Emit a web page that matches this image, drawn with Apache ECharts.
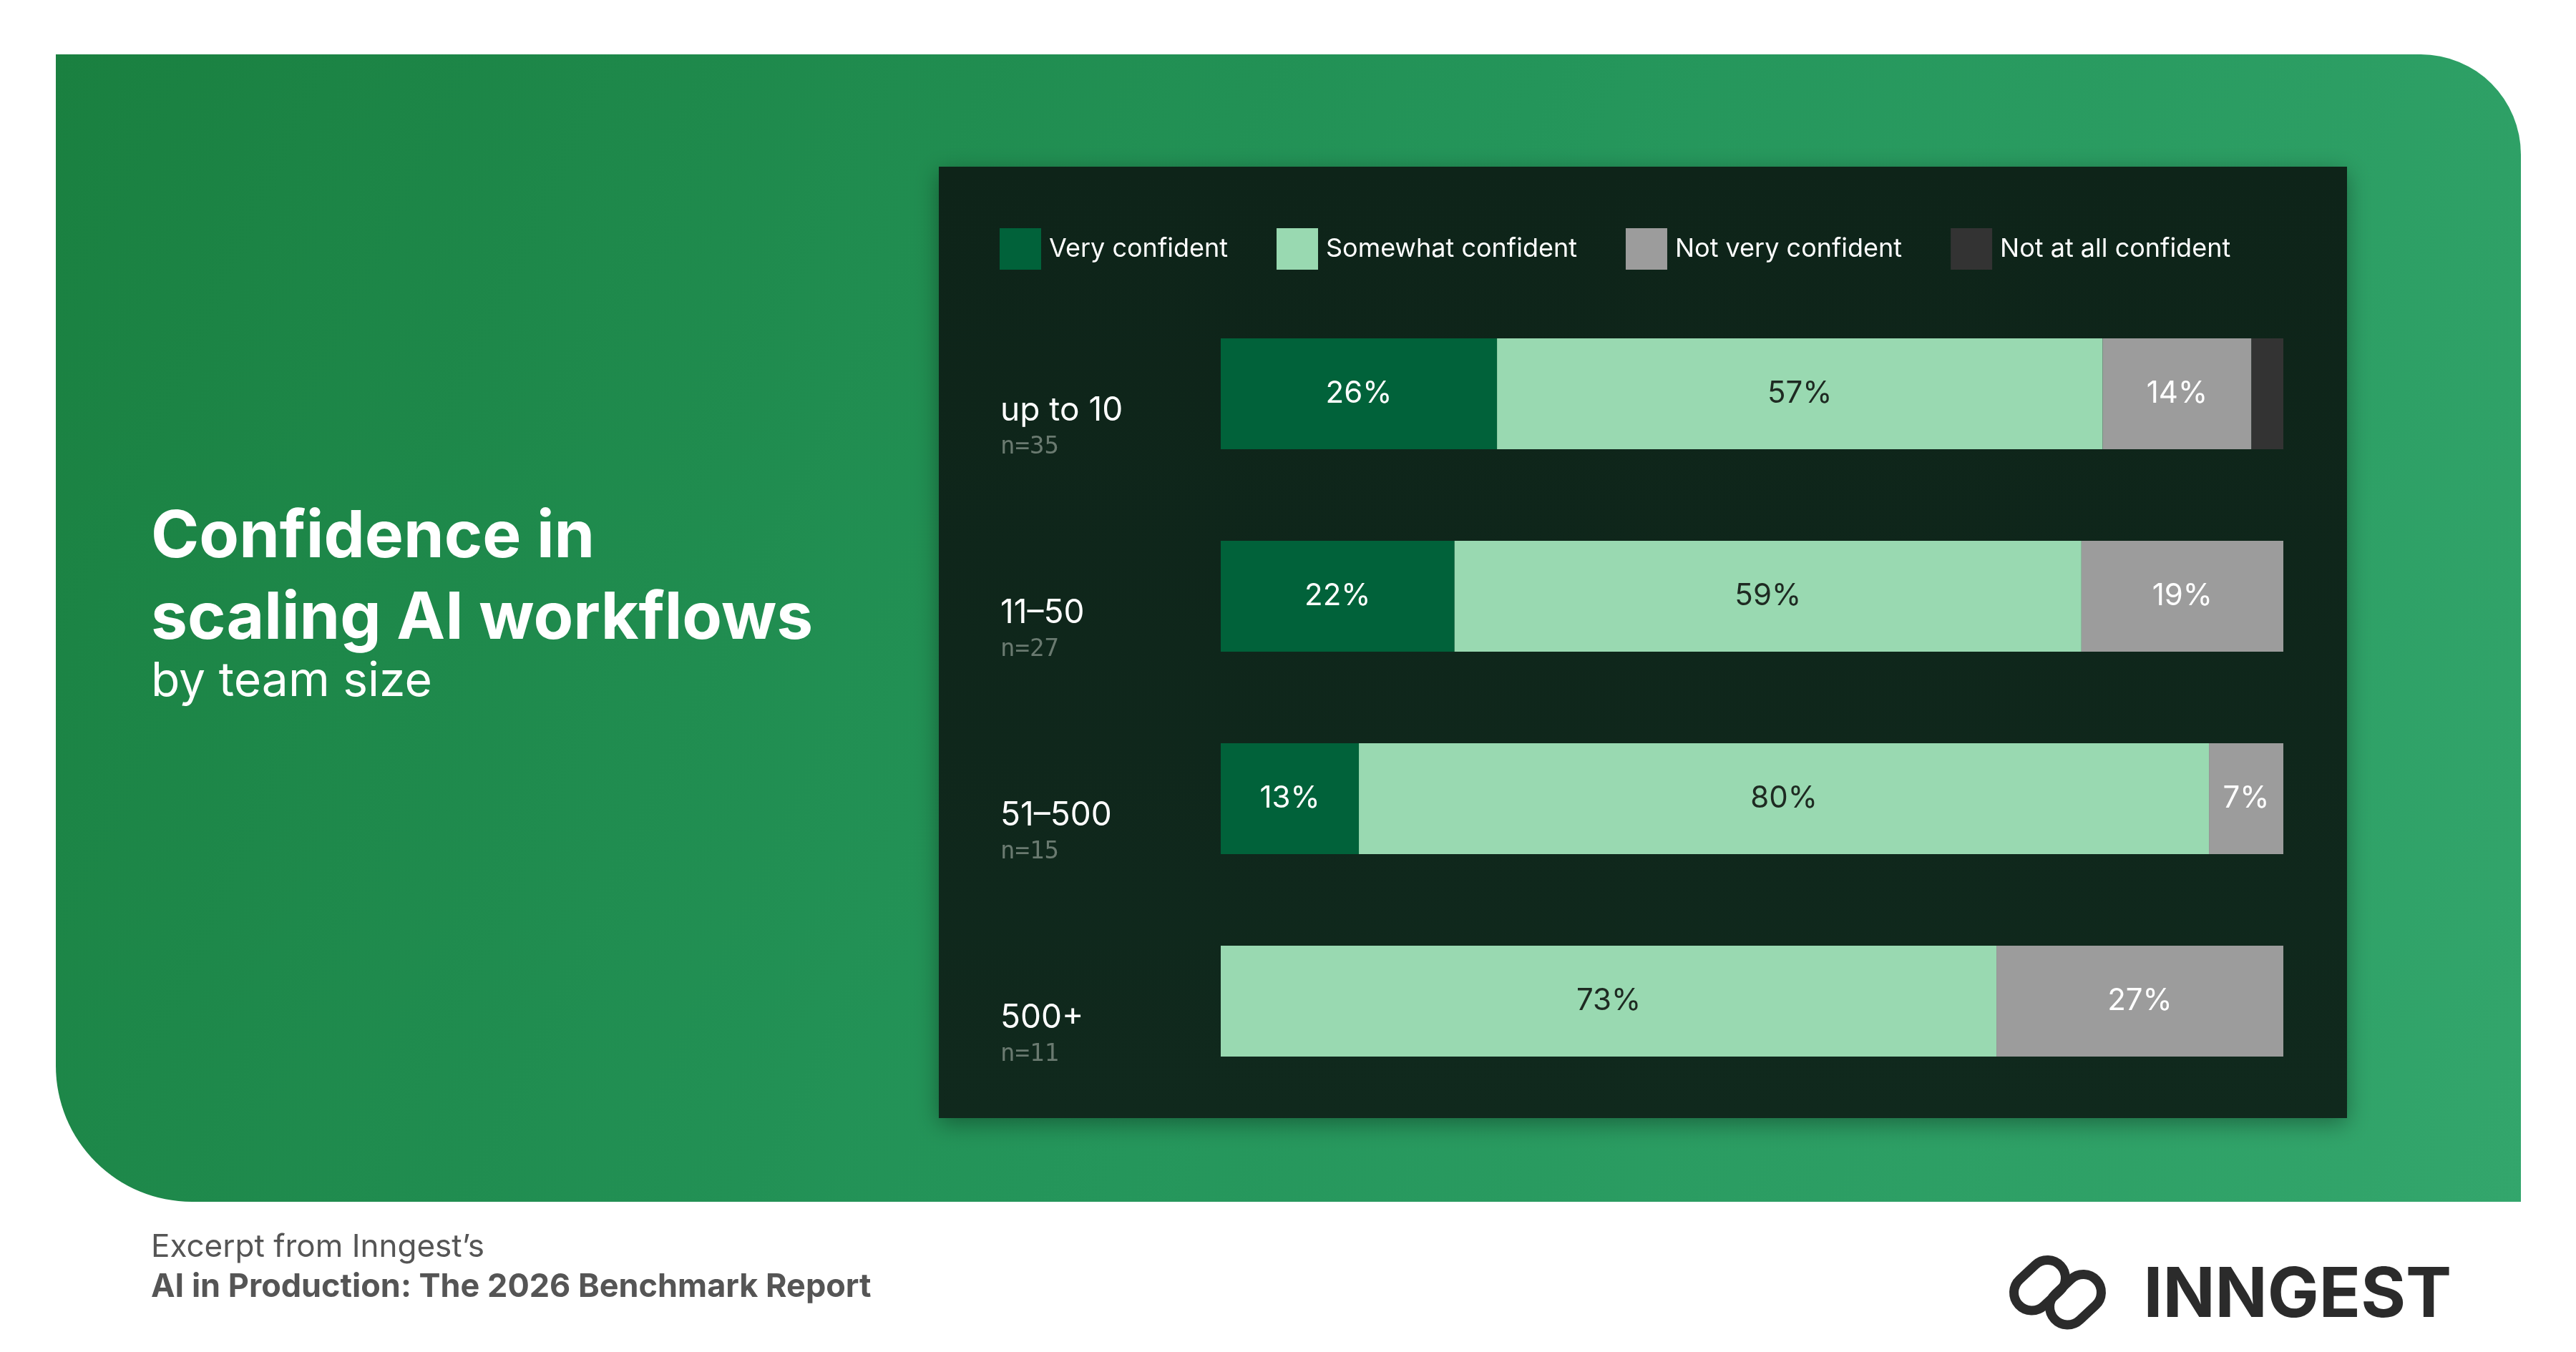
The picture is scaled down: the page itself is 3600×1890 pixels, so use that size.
<!DOCTYPE html>
<html><head><meta charset="utf-8">
<script src="https://cdn.jsdelivr.net/npm/echarts@6/dist/echarts.min.js"></script>
<style>html,body{margin:0;padding:0;background:#fff}#c{width:3600px;height:1890px}</style>
</head><body><div id="c"></div>
<script>
const categories = ['up to 10', '11–50', '51–500', '500+'];
const sampleSizes = ['n=35', 'n=27', 'n=15', 'n=11'];
const veryConfident = [26, 22, 13, 0];
const somewhatConfident = [57, 59, 80, 73];
const notVeryConfident = [14, 19, 7, 27];
const notAtAllConfident = [3, 0, 0, 0];

const chart = echarts.init(document.getElementById('c'));
const F = 'Inter, "Noto Sans", sans-serif';
function lbl(color) {
  return {show: true, position: 'inside', color: color, fontSize: 42, fontFamily: F,
    formatter: p => p.value > 0 ? p.value + '%' : ''};
}
chart.setOption({
  backgroundColor: '#ffffff',
  animation: false,
  graphic: [
    {type: 'rect', z: -10, shape: {x: 78, y: 76, width: 3445, height: 1604, r: [0, 140, 0, 190]},
     style: {fill: new echarts.graphic.LinearGradient(0, 0, 1, 1, [
       {offset: 0, color: '#1a8040'}, {offset: 0.5, color: '#24955a'}, {offset: 1, color: '#33a66c'}])}},
    {type: 'rect', z: -9, shape: {x: 1312, y: 233, width: 1968, height: 1330},
     style: {fill: new echarts.graphic.LinearGradient(0, 0, 0, 1, [
       {offset: 0, color: '#0e2419'}, {offset: 1, color: '#10291d'}]),
       shadowBlur: 30, shadowColor: 'rgba(0,0,0,0.35)', shadowOffsetY: 8}},
    {type: 'text', left: 211, top: 695, style: {text: 'Confidence in\nscaling AI workflows', fill: '#ffffff',
      font: 'bold 91px ' + F, lineHeight: 114}},
    {type: 'text', left: 211, top: 920, style: {text: 'by team size', fill: '#ffffff', font: '66px ' + F}},
    {type: 'text', left: 211, top: 1722, style: {text: 'Excerpt from Inngest’s', fill: '#555555', font: '44px ' + F}},
    {type: 'text', left: 211, top: 1777, style: {text: 'AI in Production: The 2026 Benchmark Report', fill: '#555555', font: 'bold 45px ' + F}},
    {type: 'group', left: 2795, top: 1742, children: [
      {type: 'rect', shape: {x: 10, y: 12, width: 80, height: 50, r: 25}, rotation: 0.75, originX: 50, originY: 37,
       style: {fill: 'none', stroke: '#2b2b2b', lineWidth: 13}},
      {type: 'rect', shape: {x: 60, y: 32, width: 80, height: 50, r: 25}, rotation: 0.75, originX: 100, originY: 57,
       style: {fill: 'none', stroke: '#2b2b2b', lineWidth: 13}},
      {type: 'text', x: 195, y: 4, style: {text: 'INNGEST', fill: '#2b2b2b', font: 'bold 96px ' + F}}
    ]}
  ],
  legend: {
    left: 1392, top: 314, itemWidth: 58, itemHeight: 58, itemGap: 68, icon: 'rect',
    textStyle: {color: '#ffffff', fontSize: 36, fontFamily: F, padding: [0, 0, 0, 6]}
  },
  grid: {left: 1706, right: 409, top: 409, bottom: 349},
  xAxis: {type: 'value', min: 0, max: 100, show: false},
  yAxis: {type: 'category', data: categories, inverse: true,
    axisLine: {show: false}, axisTick: {show: false},
    axisLabel: {margin: 308, align: 'left', padding: [92, 0, 0, 0],
      formatter: (v, i) => '{a|' + v + '}\n{b|' + sampleSizes[i] + '}',
      rich: {a: {color: '#ffffff', fontSize: 46, fontFamily: F, lineHeight: 58},
             b: {color: '#6a7a70', fontSize: 34, fontFamily: '"DejaVu Sans Mono", monospace', lineHeight: 44}}}},
  series: [
    {name: 'Very confident', type: 'bar', stack: 't', barWidth: 155, data: veryConfident,
     itemStyle: {color: '#01623a'}, label: lbl('#ffffff')},
    {name: 'Somewhat confident', type: 'bar', stack: 't', data: somewhatConfident,
     itemStyle: {color: '#99d9b1'}, label: lbl('#1e2a22')},
    {name: 'Not very confident', type: 'bar', stack: 't', data: notVeryConfident,
     itemStyle: {color: '#9c9c9c'}, label: lbl('#ffffff')},
    {name: 'Not at all confident', type: 'bar', stack: 't', data: notAtAllConfident,
     itemStyle: {color: '#333333'}, label: {show: false}}
  ]
});
</script></body></html>
